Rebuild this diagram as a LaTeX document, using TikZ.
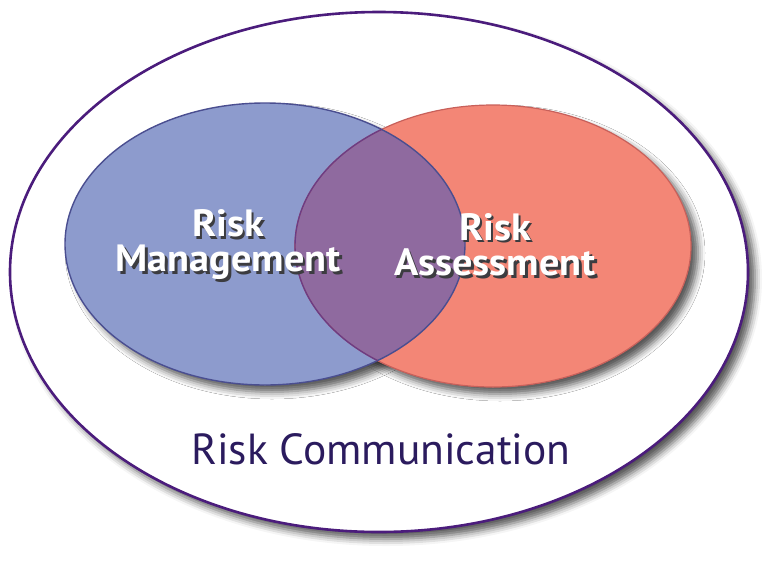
\documentclass[tikz,border=0pt]{standalone}
\usepackage{fontspec}
\setmainfont{PT Sans}
\usetikzlibrary{shadows.blur}
\definecolor{outerline}{HTML}{4B1C7C}
\definecolor{bluefill}{HTML}{8D9BCD}
\definecolor{blueline}{HTML}{4A4E90}
\definecolor{redfill}{HTML}{F38676}
\definecolor{redline}{HTML}{C8605A}
\definecolor{overlapfill}{HTML}{8F6A9F}
\definecolor{overlapline}{HTML}{6A3D86}
\definecolor{commtext}{HTML}{2B1B5E}
\definecolor{txtshadow}{HTML}{3C3C40}
\newcommand\shtext[1]{\makebox[0pt][l]{\kern2.5pt\raisebox{-2.5pt}{\textcolor{txtshadow}{#1}}}\textcolor{white}{#1}}
\tikzset{
  shad/.style={blur shadow={shadow xshift=7pt, shadow yshift=-7pt, shadow blur radius=7pt, shadow opacity=65}},
  bigtext/.style={font=\fontsize{38}{35}\selectfont\bfseries, align=center, inner sep=0pt, xscale=1.06},
  commstyle/.style={font=\fontsize{43.5}{43.5}\selectfont, text=commtext, inner sep=0pt}
}
\begin{document}
\begin{tikzpicture}[x=1pt,y=-1pt]
\useasboundingbox (0,0) rectangle (780,566);
% outer ellipse
\fill[white, shad] (379,272) ellipse [x radius=369, y radius=260];
\draw[outerline, line width=2.6pt] (379,272) ellipse [x radius=369, y radius=260];
% shadows of the two ellipses
\fill[white, shad] (265,244) ellipse [x radius=200, y radius=141];
\fill[white, shad] (493,246) ellipse [x radius=198, y radius=141];
% fills
\fill[bluefill] (265,244) ellipse [x radius=200, y radius=141];
\fill[redfill] (493,246) ellipse [x radius=198, y radius=141];
\begin{scope}
  \clip (265,244) ellipse [x radius=200, y radius=141];
  \fill[overlapfill] (493,246) ellipse [x radius=198, y radius=141];
\end{scope}
% outlines
\draw[redline, line width=1.2pt] (493,246) ellipse [x radius=198, y radius=141];
\draw[blueline, line width=1.4pt] (265,244) ellipse [x radius=200, y radius=141];
\begin{scope}
  \clip (265,244) ellipse [x radius=200, y radius=141];
  \draw[overlapline, line width=1.4pt] (493,246) ellipse [x radius=198, y radius=141];
\end{scope}
% labels
\node[bigtext] (mgmt) at (228,246) {\shtext{Risk}\\\shtext{Management}};
\node[bigtext] (ass) at (495,246) {\shtext{Risk}\\\shtext{Assessment}};
\node[commstyle] (comm) at (381,449) {Risk Communication};
\end{tikzpicture}
\end{document}
